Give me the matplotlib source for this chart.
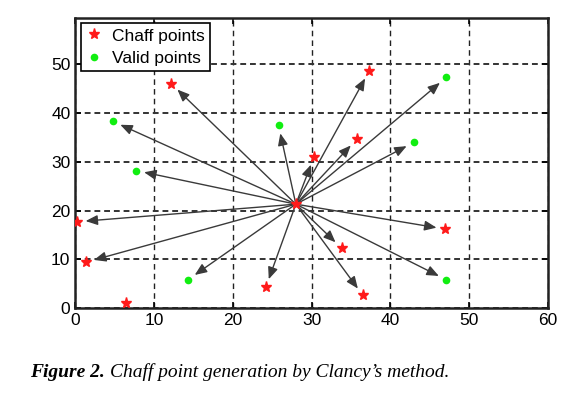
import matplotlib
matplotlib.use("Agg")
import matplotlib.pyplot as plt

center = (28.0, 21.3)

chaff_x = [12.2, 37.3, 35.7, 30.3, 0.25, 1.35, 6.4, 24.2, 33.8, 36.5, 46.9]
chaff_y = [46.0, 48.6, 34.6, 31.0, 17.7, 9.4, 1.0, 4.3, 12.3, 2.6, 16.2]
chaff_arrow = [True, True, True, True, True, True, False, True, True, True, True]

valid_x = [4.75, 7.7, 25.8, 47.1, 43.0, 14.3, 47.1]
valid_y = [38.3, 28.2, 37.5, 47.3, 34.0, 5.8, 5.8]

xticks = [0, 10, 20, 30, 40, 50, 60]
yticks = [0, 10, 20, 30, 40, 50]

fig = plt.figure(figsize=(5.86, 3.97), dpi=100)
ax = fig.add_axes([0.1285, 0.2242, 0.8065, 0.7305])
ax.set_xlim(0, 60)
ax.set_ylim(0, 59.5)

targets = [(x, y) for x, y, a in zip(chaff_x, chaff_y, chaff_arrow) if a]
targets += list(zip(valid_x, valid_y))
for tx, ty in targets:
    ax.annotate("", xy=(tx, ty), xytext=center,
                arrowprops=dict(arrowstyle="-|>,head_length=0.6,head_width=0.25",
                                color="#3a3a3a", lw=1.0, shrinkA=0, shrinkB=6,
                                mutation_scale=12),
                zorder=3)

ax.plot(chaff_x, chaff_y, linestyle="none", marker="*", color="#ff1a1a",
        markersize=8, label="Chaff points", zorder=4)
ax.plot([center[0]], [center[1]], linestyle="none", marker="*", color="#ff1a1a",
        markersize=8, zorder=4)
ax.plot(valid_x, valid_y, linestyle="none", marker="o", color="#11ee11",
        markersize=5.5, markeredgewidth=0, label="Valid points", zorder=4)

ax.set_xticks(xticks)
ax.set_yticks(yticks)
ax.xaxis.grid(True, linestyle=(0, (4, 3)), color="#222222", linewidth=1.0)
ax.yaxis.grid(True, linestyle=(0, (3, 2)), color="#333333", linewidth=1.4)
ax.tick_params(direction="in", length=4, top=True, right=True,
               labelsize=12.5, width=1.2)
for lab in ax.get_xticklabels() + ax.get_yticklabels():
    lab.set_family("Liberation Sans")
for s in ax.spines.values():
    s.set_linewidth(1.8)
    s.set_color("#222222")

leg = ax.legend(loc="upper left", prop={"family": "Liberation Sans", "size": 12.5},
                frameon=True, fancybox=False, borderpad=0.3, handletextpad=0.5,
                labelspacing=0.4, handlelength=1.0, borderaxespad=0.3)
leg.get_frame().set_edgecolor("black")
leg.get_frame().set_linewidth(1.2)
leg.get_frame().set_alpha(1)

fig.text(0.051, 0.05, "Figure 2.", fontfamily="Liberation Serif",
         fontstyle="italic", fontweight="bold", fontsize=14)
fig.text(0.188, 0.05, "Chaff point generation by Clancy\u2019s method.",
         fontfamily="Liberation Serif", fontstyle="italic", fontsize=14)

fig.savefig("out.png", dpi=100)
